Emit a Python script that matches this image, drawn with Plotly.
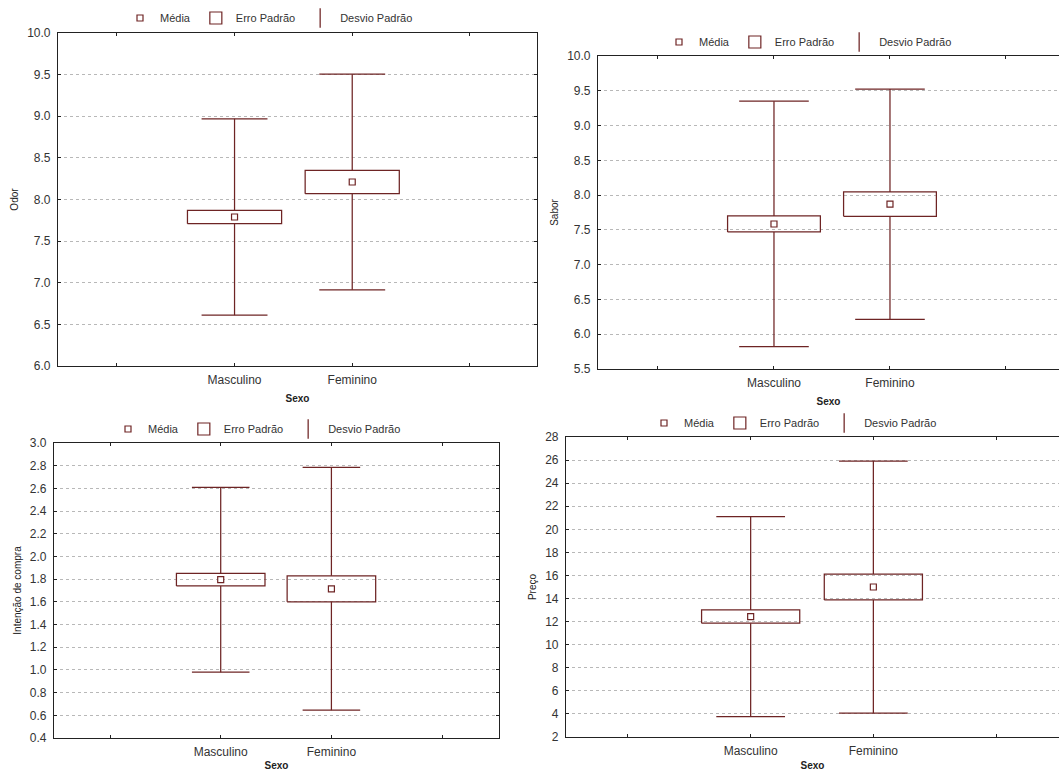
import plotly.graph_objects as go

# ---------------- data ----------------
categories = ["Masculino", "Feminino"]

odor_mean = [7.79, 8.21]
odor_se = [0.08, 0.14]
odor_sd = [1.18, 1.295]

sabor_mean = [7.585, 7.87]
sabor_se = [0.115, 0.175]
sabor_sd = [1.765, 1.655]

intencao_mean = [1.795, 1.715]
intencao_se = [0.055, 0.115]
intencao_sd = [0.815, 1.07]

preco_mean = [12.44, 15.0]
preco_se = [0.575, 1.125]
preco_sd = [8.67, 10.92]

legend_labels = ["Média", "Erro Padrão", "Desvio Padrão"]
x_title = "Sexo"

# ---------------- style ----------------
C = "#6e2424"
FONT = "Liberation Sans, Arial, sans-serif"
W, H = 1059, 771
BOX_HALF = 0.4
LW = 1.25


def fx(px):
    return px / W


def fy(py):
    return 1 - py / H


panels = [
    dict(title="Odor", mean=odor_mean, se=odor_se, sd=odor_sd,
         yr=[6, 10], dtick=0.5, fmt=".1f",
         xd=[fx(58), fx(537)], yd=[fy(366), fy(33)], xr=[-0.5, 3.57],
         cap=0.28, right=True, leg=(fx(269), fy(18)), xst=9),
    dict(title="Sabor", mean=sabor_mean, se=sabor_se, sd=sabor_sd,
         yr=[5.5, 10], dtick=0.5, fmt=".1f",
         xd=[fx(598), 1.0], yd=[fy(369), fy(56)], xr=[-0.517, 3.457],
         cap=0.3, right=False, leg=(fx(808), fy(42)), xst=9),
    dict(title="Intenção de compra", mean=intencao_mean, se=intencao_se, sd=intencao_sd,
         yr=[0.4, 3.0], dtick=0.2, fmt=".1f",
         xd=[fx(54), fx(499)], yd=[fy(738), fy(443)], xr=[-0.506, 3.514],
         cap=0.26, right=True, leg=(fx(257), fy(429)), xst=8),
    dict(title="Preço", mean=preco_mean, se=preco_se, sd=preco_sd,
         yr=[2, 28], dtick=2, fmt="d",
         xd=[fx(566), 1.0], yd=[fy(737), fy(437)], xr=[-0.505, 3.513],
         cap=0.28, right=False, leg=(fx(793), fy(423)), xst=8),
]

fig = go.Figure()
layout = dict(
    width=W, height=H,
    margin=dict(l=0, r=0, t=0, b=0, autoexpand=False),
    paper_bgcolor="white", plot_bgcolor="white",
    font=dict(family=FONT, size=11, color="#333333"),
    showlegend=True,
)

for k, p in enumerate(panels):
    n = "" if k == 0 else str(k + 1)
    xa, ya = "x" + n, "y" + n
    leg = "legend" + n
    xs = [i + 1 for i in range(len(categories))]

    # whiskers (SD) outside the SE box
    wx, wy = [], []
    for x, m, s, d in zip(xs, p["mean"], p["se"], p["sd"]):
        wx += [x, x, None, x - p["cap"], x + p["cap"], None,
               x, x, None, x - p["cap"], x + p["cap"], None]
        wy += [m + s, m + d, None, m + d, m + d, None,
               m - s, m - d, None, m - d, m - d, None]
    fig.add_trace(go.Scatter(x=wx, y=wy, mode="lines", xaxis=xa, yaxis=ya,
                             line=dict(color=C, width=LW), showlegend=False,
                             hoverinfo="skip"))

    # SE boxes
    bx, by = [], []
    for x, m, s in zip(xs, p["mean"], p["se"]):
        bx += [x - BOX_HALF, x + BOX_HALF, x + BOX_HALF, x - BOX_HALF, x - BOX_HALF, None]
        by += [m - s, m - s, m + s, m + s, m - s, None]
    fig.add_trace(go.Scatter(x=bx, y=by, mode="lines", xaxis=xa, yaxis=ya,
                             line=dict(color=C, width=LW), showlegend=False,
                             hoverinfo="skip"))

    # means
    fig.add_trace(go.Scatter(x=xs, y=p["mean"], mode="markers", xaxis=xa, yaxis=ya,
                             marker=dict(symbol="square", size=6, color="white",
                                         line=dict(color=C, width=1.2)),
                             showlegend=False))

    # legend entries
    fig.add_trace(go.Scatter(x=[None], y=[None], mode="markers", xaxis=xa, yaxis=ya,
                             name=legend_labels[0], legend=leg,
                             marker=dict(symbol="square", size=6, color="white",
                                         line=dict(color=C, width=1.2))))
    fig.add_trace(go.Bar(x=[None], y=[None], xaxis=xa, yaxis=ya,
                         name=legend_labels[1], legend=leg,
                         marker=dict(color="white", line=dict(color=C, width=1.2))))
    fig.add_trace(go.Scatter(x=[None], y=[None], mode="markers", xaxis=xa, yaxis=ya,
                             name=legend_labels[2], legend=leg,
                             marker=dict(symbol="line-ns", size=14,
                                         line=dict(color=C, width=LW))))

    layout["xaxis" + n] = dict(
        domain=p["xd"], anchor=ya, range=p["xr"],
        tickvals=[0, 1, 2, 3], ticktext=[""] + categories + [""],
        ticks="inside", ticklen=3, tickcolor="#222",
        showline=True, linecolor="#222", linewidth=1.2,
        mirror="allticks", showgrid=False, zeroline=False,
        tickfont=dict(size=12, color="#333"),
        ticklabelstandoff=2,
        title=dict(text=x_title, font=dict(size=10, color="#222", weight="bold"),
                   standoff=p["xst"]),
        fixedrange=True,
    )
    layout["yaxis" + n] = dict(
        domain=p["yd"], anchor=xa, range=p["yr"], dtick=p["dtick"],
        tick0=p["yr"][0], tickformat=p["fmt"],
        ticks="inside", ticklen=3, tickcolor="#222",
        showline=True, linecolor="#222", linewidth=1.2,
        mirror=("allticks" if p["right"] else False),
        showgrid=True, gridcolor="#b8b8b8", griddash="dot", gridwidth=1,
        zeroline=False,
        tickfont=dict(size=12, color="#333"),
        ticklabelstandoff=4,
        title=dict(text=p["title"], font=dict(size=10, color="#222"), standoff=6),
        fixedrange=True,
    )
    layout[leg] = dict(
        orientation="h", x=p["leg"][0], y=p["leg"][1],
        xanchor="center", yanchor="middle",
        font=dict(size=11, color="#333"), bgcolor="rgba(0,0,0,0)",
        itemwidth=30, tracegroupgap=0,
    )

fig.update_layout(**layout)
fig.write_html(
    "out.html",
    config={"displayModeBar": False},
    post_script="document.body.style.margin='0';document.body.style.overflow='hidden';",
)
